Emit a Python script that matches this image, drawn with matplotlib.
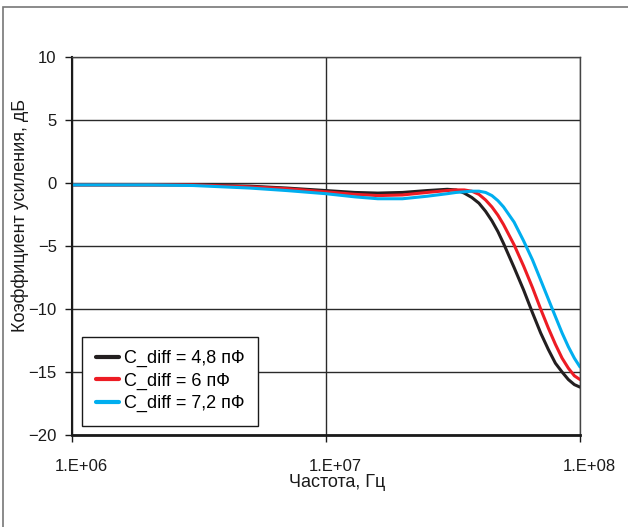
import matplotlib
matplotlib.use("Agg")
import matplotlib.pyplot as plt
import matplotlib.transforms as mtransforms
from matplotlib.patches import Rectangle

plt.rcParams['font.family'] = ['Liberation Sans', 'DejaVu Sans']

freq = [1e6, 2e6, 3e6, 5e6, 7e6, 1e7, 1.3e7, 1.6e7, 2e7, 2.5e7, 3e7, 3.25e7, 3.5e7, 3.75e7,
        4e7, 4.25e7, 4.5e7, 4.75e7, 5e7, 5.5e7, 6e7, 6.5e7, 7e7, 7.5e7, 8e7, 8.5e7, 9e7, 9.5e7, 1e8]

gain_48 = [-0.15, -0.15, -0.15, -0.25, -0.4, -0.6, -0.75, -0.8, -0.75, -0.6, -0.5, -0.55, -0.8, -1.15,
           -1.6, -2.25, -3.0, -3.85, -4.8, -6.7, -8.5, -10.3, -11.9, -13.2, -14.3, -15.0, -15.6, -16.0, -16.2]
gain_60 = [-0.15, -0.15, -0.15, -0.3, -0.45, -0.7, -0.9, -1.0, -0.95, -0.75, -0.6, -0.55, -0.55, -0.65,
           -0.9, -1.35, -1.9, -2.55, -3.3, -4.9, -6.6, -8.3, -10.0, -11.5, -12.8, -13.9, -14.7, -15.3, -15.6]
gain_72 = [-0.15, -0.15, -0.2, -0.4, -0.6, -0.85, -1.1, -1.25, -1.25, -1.05, -0.85, -0.75, -0.7, -0.65,
           -0.65, -0.75, -1.0, -1.4, -1.9, -3.1, -4.6, -6.1, -7.7, -9.2, -10.6, -11.9, -13.0, -13.9, -14.6]

labels = ['C_diff = 4,8 пФ', 'C_diff = 6 пФ', 'C_diff = 7,2 пФ']
colors = ['#231f20', '#ed1c24', '#00aeef']

xticks = [1e6, 1e7, 1e8]
xticklabels = ['1.E+06', '1.E+07', '1.E+08']
yticks = [-20, -15, -10, -5, 0, 5, 10]

W, H = 628, 527
fig = plt.figure(figsize=(W / 100, H / 100), dpi=100)
ax = fig.add_axes([72 / W, 1 - 435 / H, (580 - 72) / W, (435 - 57) / H])

for g, lab, c in zip([gain_48, gain_60, gain_72], labels, colors):
    ax.plot(freq, g, color=c, lw=2.2, label=lab, solid_capstyle='round', solid_joinstyle='round')

ax.set_xscale('log')
ax.set_xlim(1e6, 1e8)
ax.set_ylim(-20, 10)
ax.set_xticks(xticks)
ax.set_xticklabels(xticklabels)
ax.xaxis.set_minor_locator(matplotlib.ticker.NullLocator())
ax.set_yticks(yticks)
ax.set_yticklabels([f'{v}'.replace('-', '\u2212') for v in yticks])

ax.grid(True, which='major', color='#2a2a2a', lw=1.0)
ax.set_axisbelow(True)

for s in ['top', 'right']:
    ax.spines[s].set_color('#444444')
    ax.spines[s].set_linewidth(1.0)
ax.spines['left'].set_linewidth(1.5)
ax.spines['bottom'].set_linewidth(2.0)
for s in ['left', 'bottom']:
    ax.spines[s].set_color('#1a1a1a')

ax.tick_params(axis='both', direction='out', length=5, width=1, color='#1a1a1a',
               labelsize=12, labelcolor='#1a1a1a')
ax.tick_params(axis='x', pad=12)
ax.tick_params(axis='y', pad=6)

offset = mtransforms.ScaledTranslation(9 / 100, 0, fig.dpi_scale_trans)
for lbl in ax.get_xticklabels():
    lbl.set_transform(lbl.get_transform() + offset)

ax.set_xlabel('Частота, Гц', fontsize=13, color='#1a1a1a', labelpad=0)
ax.xaxis.set_label_coords((337 - 72) / 508, -(474 - 435) / 378)
ax.set_ylabel('Коэффициент усиления, дБ', fontsize=13, color='#1a1a1a')
ax.yaxis.set_label_coords(-(72 - 29) / 508, (435 - 215) / 378)

leg = ax.legend(loc='lower left', bbox_to_anchor=((82 - 72) / 508, (435 - 426) / 378),
                borderaxespad=0, fontsize=13, frameon=True, fancybox=False,
                framealpha=1, edgecolor='#1a1a1a', handlelength=1.3,
                handletextpad=0.25, labelspacing=0.3, borderpad=0.75)
leg.get_frame().set_linewidth(1.0)
for line in leg.get_lines():
    line.set_linewidth(3.0)

fig.add_artist(Rectangle((3 / W, -0.1), 1.2, 1 - 7 / H + 0.1, transform=fig.transFigure,
                         fill=False, edgecolor='#777777', lw=1.2))

fig.savefig('out.png', dpi=100)
